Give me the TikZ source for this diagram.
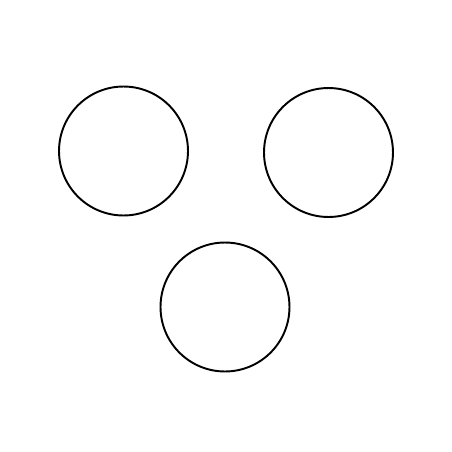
\documentclass[tikz,border=0pt]{standalone}
\begin{document}
\begin{tikzpicture}[scale=0.02]
      \tikzstyle{every node}+=[inner sep=0pt]
      \tikzstyle{ring}=[draw=black, circle, line width=1.1pt, minimum size=2.58cm]
      \useasboundingbox (0,0) rectangle (452,-452);
      \node [ring] (left) at (123.5,-151) {};
      \node [ring] (right) at (328.5,-152.5) {};
      \node [ring] (bottom) at (225,-307) {};
\end{tikzpicture}
\end{document}
